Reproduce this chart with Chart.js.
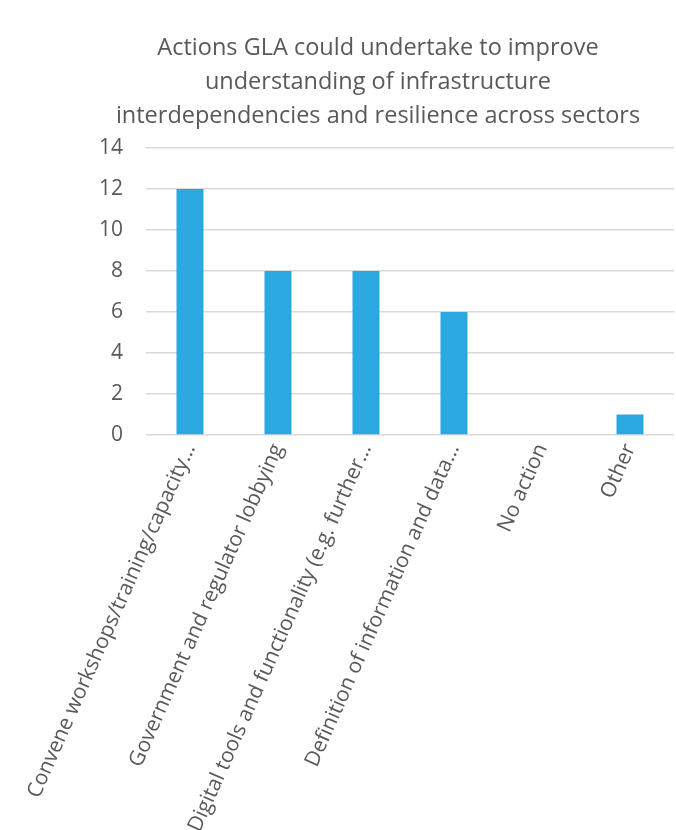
<!DOCTYPE html>
<html>
<head>
<meta charset="utf-8">
<script src="https://cdn.jsdelivr.net/npm/chart.js@4/dist/chart.umd.min.js"></script>
<style>
  html, body { margin: 0; padding: 0; background: #ffffff; }
  #wrap { position: relative; width: 676px; height: 830px; }
  #title {
    position: absolute; left: 78px; width: 600px; top: 29px;
    text-align: center; font-family: "Open Sans", sans-serif;
    font-size: 23.5px; line-height: 34px; color: #595959;
  }
  canvas { position: absolute; left: 0; top: 0; }
</style>
</head>
<body>
<div id="wrap">
  <canvas id="chart" width="676" height="830"></canvas>
  <div id="title">Actions GLA could undertake to improve<br>understanding of infrastructure<br>interdependencies and resilience across sectors</div>
</div>
<script>
// Survey responses per suggested action
const categories = [
  "Convene workshops/training/capacity…",
  "Government and regulator lobbying",
  "Digital tools and functionality (e.g. further…",
  "Definition of information and data…",
  "No action",
  "Other"
];
const responses = [12, 8, 8, 6, 0, 1];
const yTicks = [0, 2, 4, 6, 8, 10, 12, 14];

const grey = "#595959";
const gridGrey = "#D9D9D9";

new Chart(document.getElementById("chart"), {
  type: "bar",
  data: {
    labels: categories,
    datasets: [{
      data: responses,
      backgroundColor: "#29A9E0",
      borderWidth: 0,
      barPercentage: 1,
      categoryPercentage: 0.307
    }]
  },
  options: {
    responsive: false,
    animation: false,
    layout: { padding: { top: 148, right: 2, left: 0, bottom: 0 } },
    plugins: { legend: { display: false }, tooltip: { enabled: false }, title: { display: false } },
    scales: {
      x: {
        // fixed label band; rotated labels may overhang the left edge
        afterFit: (axis) => { axis.height = 395; axis.paddingLeft = 0; axis.paddingRight = 0; },
        grid: { display: false, drawTicks: false },
        border: { display: false },
        ticks: {
          color: grey,
          font: { family: "Open Sans", size: 21 },
          minRotation: 66,
          maxRotation: 66,
          autoSkip: false,
          padding: 5
        }
      },
      y: {
        min: 0,
        max: 14,
        afterFit: (axis) => { axis.width = 146; },
        afterBuildTicks: (axis) => { axis.ticks = yTicks.map(v => ({ value: v })); },
        grid: { color: gridGrey, lineWidth: 1.5, drawTicks: false },
        border: { display: false },
        ticks: {
          color: grey,
          font: { family: "Open Sans", size: 21 },
          padding: 23
        }
      }
    }
  }
});
</script>
</body>
</html>
